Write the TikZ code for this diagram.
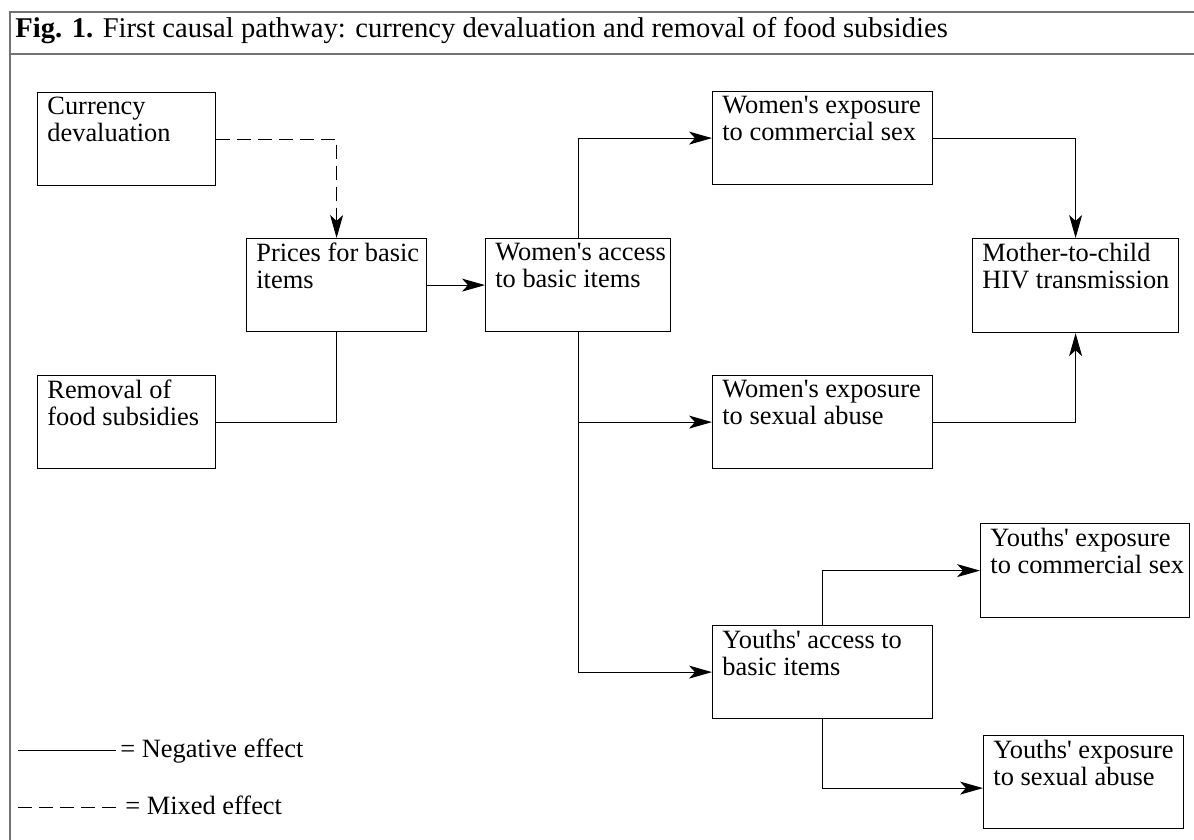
\documentclass[tikz,border=0pt]{standalone}
\usepackage{fontspec}
\setmainfont{Liberation Serif}
\usetikzlibrary{arrows.meta}

\begin{document}
\begin{tikzpicture}[
x = 0.5pt, y = -0.5pt,
item/.style={rectangle, draw=black, line width=0.6pt, anchor=north west, inner sep=0pt, minimum width=89pt, minimum height=46.5pt},
txt/.style={anchor=north west, align=left, inner xsep=5pt, inner ysep=2.5pt, font=\fontsize{13.2}{13.5}\selectfont},
key/.style={anchor=base west, inner xsep=2pt, font=\fontsize{13.2}{13.5}\selectfont},
neg/.style={-{Stealth[length=11.5pt, width=6.5pt, inset=3pt]}, line width=0.5pt},
mixed/.style={neg, dash pattern=on 7pt off 3.5pt},
frame/.style={draw=black!55, line width=1pt}]

\useasboundingbox (0,0) rectangle (1194,840);
\draw[frame] (1194,12) -| (10,840);
\draw[frame] (10,54) -- (1194,54);
\node[anchor=base west, inner sep=0pt, font=\fontsize{14.3}{15}\selectfont] (title) at (15,38)
  {\textbf{Fig. 1.} First causal pathway: currency devaluation and removal of food subsidies};

\node[item] (cur) at (37,92) [label={[txt]north west:{Currency\\devaluation}}] {};
\node[item, minimum width=90pt] (pri) at (246,238) [label={[txt]north west:{Prices for basic\\items}}] {};
\node[item] (rem) at (37,375) [label={[txt]north west:{Removal of\\food subsidies}}] {};
\node[item, minimum width=92.5pt] (wac) at (485,238) [label={[txt]north west:{Women\textquotesingle s access\\to basic items}}] {};
\node[item, minimum width=110pt] (wcs) at (712,91) [label={[txt]north west:{Women\textquotesingle s exposure\\to commercial sex}}] {};
\node[item, minimum width=110pt] (wsa) at (712,375) [label={[txt]north west:{Women\textquotesingle s exposure\\to sexual abuse}}] {};
\node[item, minimum width=103pt, minimum height=47pt] (mot) at (972,238) [label={[txt]north west:{Mother-to-child\\HIV transmission}}] {};
\node[item, minimum width=110pt] (yac) at (712,625) [label={[txt]north west:{Youths\textquotesingle{} access to\\basic items}}] {};
\node[item, minimum width=104.5pt, minimum height=47pt] (ycs) at (980,523) [label={[txt]north west:{Youths\textquotesingle{} exposure\\to commercial sex}}] {};
\node[item, minimum width=100pt] (ysa) at (983,735) [label={[txt]north west:{Youths\textquotesingle{} exposure\\to sexual abuse}}] {};

\draw[mixed] (cur.east) -| (pri.north);
\draw[line width=0.5pt] (rem.east) -| (pri.south);
\draw[neg] (pri.east) -- (wac.west);
\draw[neg] (wac.north) |- (wcs.west);
\draw[neg] (wac.south) |- (wsa.west);
\draw[neg] (wac.south) |- (yac.west);
\draw[neg] (wcs.east) -| (mot.north);
\draw[neg] (wsa.east) -| (mot.south);
\draw[neg] (yac.north) |- (ycs.west);
\draw[neg] (yac.south) |- ([yshift=-3pt]ysa.west);

\node[key] (negkey) at (116,757) {= Negative effect};
\node[key] (mixkey) at (121,814) {= Mixed effect};
\coordinate (negstart) at (18,750);
\coordinate (mixstart) at (18,807);
\draw[line width=0.5pt] (negstart) -- (negstart -| negkey.west);
\draw[line width=0.5pt, dash pattern=on 7pt off 3.5pt] (mixstart) -- (mixstart -| mixkey.west);
\end{tikzpicture}
\end{document}
